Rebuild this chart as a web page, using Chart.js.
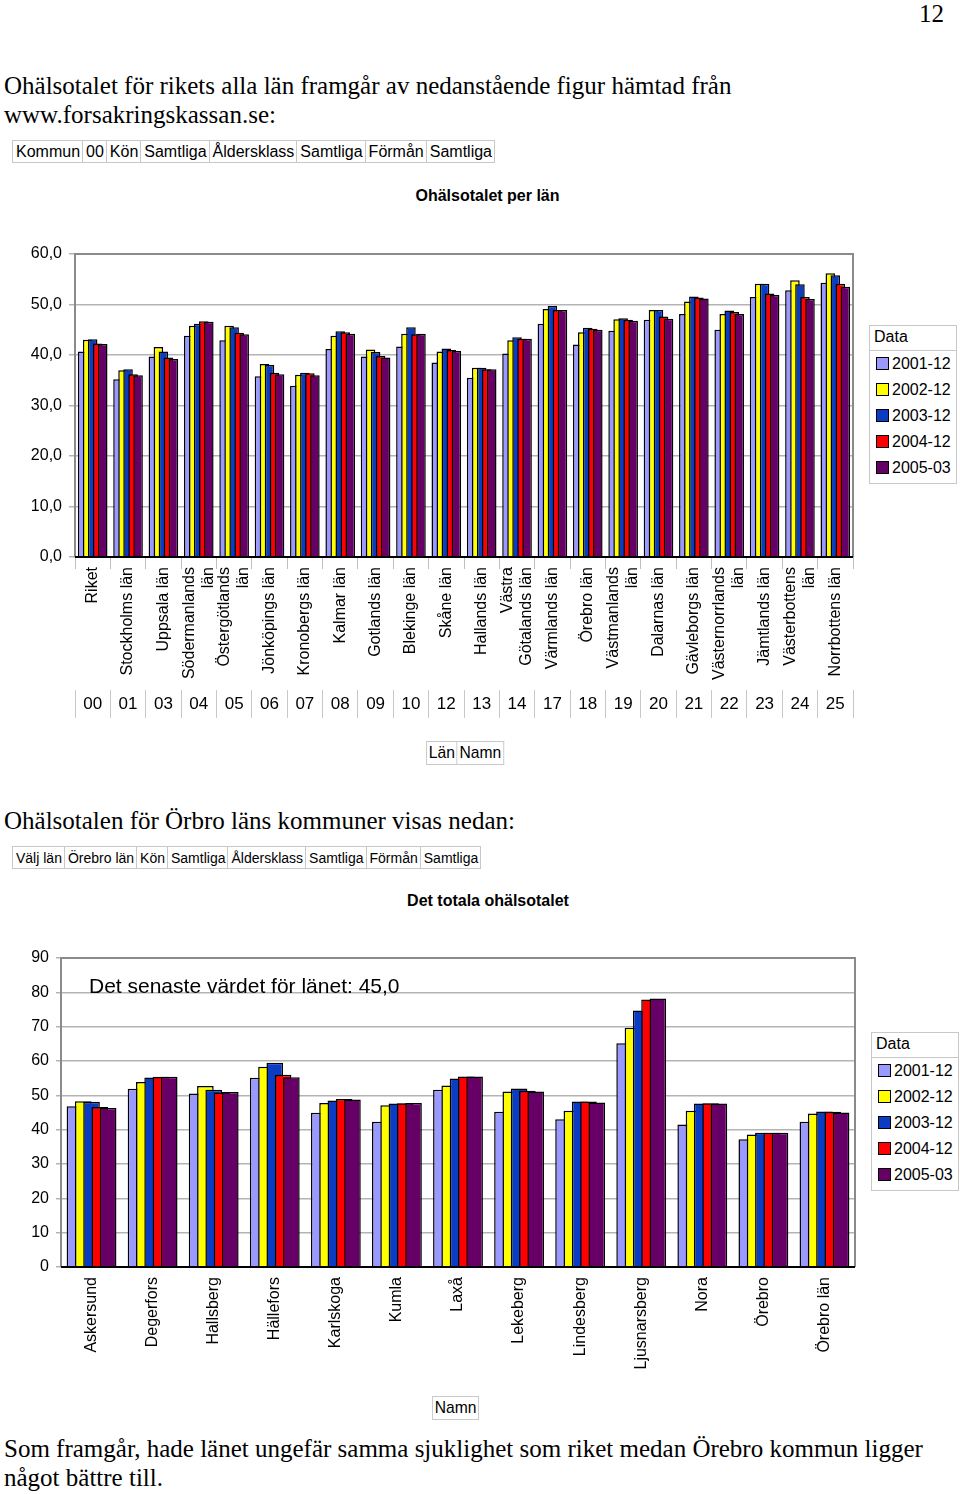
<!DOCTYPE html>
<html><head><meta charset="utf-8">
<script src="https://cdn.jsdelivr.net/npm/chart.js@4.4.1/dist/chart.umd.min.js"></script>
<style>
body{margin:0;width:960px;height:1494px;position:relative;background:#fff;font-family:'Liberation Sans',Arial,sans-serif;color:#000;overflow:hidden}
.abs{position:absolute;white-space:nowrap}
.serif{font-family:'Liberation Serif','Times New Roman',serif;font-size:25px;line-height:29px}
table.f{border-collapse:collapse;position:absolute}
table.f td{border:1px solid #c8c8c8;padding:0 2px 0 3px;white-space:nowrap}
.legend{position:absolute;border:1px solid #c8c8c8;font-size:16px;background:#fff}
.legend .hd{padding:2px 4px 3px 4px;border-bottom:1px solid #c8c8c8;height:19px}
.legend .it{height:26px;line-height:26px;padding-left:6px}
.legend .sw{display:inline-block;width:11px;height:11px;border:1px solid #000;margin-right:3px;vertical-align:-1px}
.bt{font-weight:bold;font-size:16px}
table.f.narrow{transform:scaleX(0.92);transform-origin:0 0}
table.f.narrow td{padding:0 2px}
canvas{position:absolute;left:0}
</style>
</head><body>
<div class="abs serif" style="right:16px;top:-1px">12</div>
<div class="abs serif" style="left:4px;top:71px">Ohälsotalet för rikets alla län framgår av nedanstående figur hämtad från<br>www.forsakringskassan.se:</div>
<table class="f" style="left:12px;top:140px;font-size:16px;height:23px"><tr><td>Kommun</td><td>00</td><td>Kön</td><td>Samtliga</td><td>Åldersklass</td><td>Samtliga</td><td>Förmån</td><td>Samtliga</td></tr></table>
<div class="abs bt" style="left:0;width:975px;text-align:center;top:187px">Ohälsotalet per län</div>
<div style="position:absolute;left:0;top:230px;width:860px;height:500px"><canvas id="c1" width="860" height="500"></canvas></div>
<div class="legend" id="lg1" style="left:869px;top:325px;width:86px;height:157px"></div>
<table class="f narrow" style="left:426px;top:741px;font-size:17px;height:24px"><tr><td>Län</td><td>Namn</td></tr></table>

<div class="abs serif" style="left:4px;top:806px">Ohälsotalen för Örbro läns kommuner visas nedan:</div>
<table class="f" style="left:12px;top:846px;font-size:14px;height:23px"><tr><td>Välj län</td><td>Örebro län</td><td>Kön</td><td>Samtliga</td><td>Åldersklass</td><td>Samtliga</td><td>Förmån</td><td>Samtliga</td></tr></table>
<div class="abs bt" style="left:0;width:976px;text-align:center;top:892px">Det totala ohälsotalet</div>
<div style="position:absolute;left:0;top:940px;width:860px;height:440px"><canvas id="c2" width="860" height="440"></canvas></div>
<div class="abs" style="left:89px;top:974px;font-size:21px">Det senaste värdet för länet: 45,0</div>
<div class="legend" id="lg2" style="left:871px;top:1032px;width:86px;height:157px"></div>
<table class="f narrow" style="left:432px;top:1396px;font-size:17px;height:24px"><tr><td>Namn</td></tr></table>

<div class="abs serif" style="left:4px;top:1434px">Som framgår, hade länet ungefär samma sjuklighet som riket medan Örebro kommun ligger<br>något bättre till.</div>

<script>
const seriesNames = ['2001-12','2002-12','2003-12','2004-12','2005-03'];
const seriesColors = ['#9999FF','#FFFF00','#0A3CC4','#FF0000','#660066'];

const lanLabels = [
  'Riket','Stockholms län','Uppsala län',['Södermanlands','län'],['Östergötlands','län'],
  'Jönköpings län','Kronobergs län','Kalmar län','Gotlands län','Blekinge län','Skåne län',
  'Hallands län',['Västra','Götalands län'],'Värmlands län','Örebro län',['Västmanlands','län'],
  'Dalarnas län','Gävleborgs län',['Västernorrlands','län'],'Jämtlands län',['Västerbottens','län'],'Norrbottens län'
];
const lanCodes = ['00','01','03','04','05','06','07','08','09','10','12','13','14','17','18','19','20','21','22','23','24','25'];
const lan2001 = [40.7,35.2,39.7,43.8,42.9,35.8,33.9,41.2,39.7,41.7,38.5,35.5,40.3,46.2,42.1,44.8,47.0,48.1,45.0,51.5,52.8,54.3];
const lan2002 = [43.0,37.0,41.6,45.8,45.8,38.2,36.1,43.8,41.1,44.2,40.7,37.5,42.9,49.1,44.5,47.1,48.9,50.6,48.1,54.1,54.8,56.2];
const lan2003 = [43.1,37.2,40.7,46.2,45.5,38.0,36.5,44.7,40.6,45.5,41.3,37.5,43.5,49.7,45.4,47.3,48.9,51.6,48.8,54.1,54.0,55.8];
const lan2004 = [42.3,36.2,39.5,46.7,44.4,36.5,36.4,44.5,39.8,44.1,41.0,37.2,43.2,48.9,45.2,47.0,47.6,51.4,48.5,52.2,51.5,54.1];
const lan2005 = [42.2,36.0,39.2,46.6,44.1,36.2,36.0,44.2,39.5,44.2,40.8,37.2,43.2,48.9,45.0,46.8,47.2,51.2,48.1,51.9,51.1,53.5];
const lanTicks = [0,10,20,30,40,50,60];

const komLabels = ['Askersund','Degerfors','Hallsberg','Hällefors','Karlskoga','Kumla','Laxå','Lekeberg','Lindesberg','Ljusnarsberg','Nora','Örebro','Örebro län'];
const kom2001 = [46.8,51.9,50.5,55.1,44.9,42.3,51.6,45.2,43.0,65.2,41.5,37.2,42.3];
const kom2002 = [48.3,53.9,52.7,58.3,47.8,47.1,52.9,51.1,45.5,69.7,45.5,38.6,44.7];
const kom2003 = [48.1,55.2,51.6,59.5,48.5,47.6,54.9,52.0,48.2,74.7,47.6,39.1,45.3];
const kom2004 = [46.6,55.4,50.8,56.0,48.9,47.7,55.5,51.3,48.2,77.9,47.7,39.1,45.2];
const kom2005 = [46.3,55.4,51.0,55.3,48.8,47.8,55.5,51.1,47.9,78.2,47.6,39.1,45.0];
const komTicks = [0,10,20,30,40,50,60,70,80,90];

const FONT = "'Liberation Sans', Arial, sans-serif";
const NARROW = "'Liberation Sans Narrow', 'Liberation Sans', Arial, sans-serif";

function buildLegend(id){
  const el = document.getElementById(id);
  let h = '<div class="hd">Data</div>';
  seriesNames.forEach((n,i)=>{ h += '<div class="it"><span class="sw" style="background:'+seriesColors[i]+'"></span>'+n+'</div>'; });
  el.innerHTML = h;
}
buildLegend('lg1'); buildLegend('lg2');

// draw datasets first-to-last so later series overlap earlier ones (3D-like cluster)
const forwardOrder = {
  id:'forwardOrder',
  beforeDatasetsDraw(chart){
    const metas = chart.getSortedVisibleDatasetMetas();
    metas.forEach(m => m.controller.draw());
    return false;
  }
};
const frame = {
  id:'frame',
  afterDraw(chart){
    const a = chart.chartArea, ctx = chart.ctx;
    ctx.save();
    ctx.strokeStyle = '#8a8a8a'; ctx.lineWidth = 2;
    ctx.beginPath();
    ctx.moveTo(a.left, a.bottom); ctx.lineTo(a.left, a.top); ctx.lineTo(a.right, a.top); ctx.lineTo(a.right, a.bottom);
    ctx.stroke();
    ctx.strokeStyle = '#000'; ctx.lineWidth = 2;
    ctx.beginPath(); ctx.moveTo(a.left, a.bottom); ctx.lineTo(a.right, a.bottom); ctx.stroke();
    ctx.restore();
  }
};

// center multi-line rotated tick labels on their tick
const adjusted = new WeakSet();
function centerMultiline(ax){
  if (ax._cmWrapped) return;
  const orig = ax.getLabelItems.bind(ax);
  ax.getLabelItems = function(ca){
    const items = orig(ca);
    items.forEach(it => {
      if (!adjusted.has(it) && Array.isArray(it.label) && it.label.length > 1) {
        it.options.translation[0] -= (it.label.length - 1) * 19.2 / 2;
        adjusted.add(it);
      }
    });
    return items;
  };
  ax._cmWrapped = true;
}

function makeDatasets(arrs, cp, bp){
  return arrs.map((d,i)=>({
    label: seriesNames[i], data: d, backgroundColor: seriesColors[i],
    borderColor:'#000', borderWidth:1.5, borderSkipped:'start',
    categoryPercentage: cp, barPercentage: bp
  }));
}

Chart.defaults.font.family = FONT;
Chart.defaults.color = '#000';

new Chart(document.getElementById('c1'), {
  type:'bar',
  data:{ labels: lanLabels, datasets: makeDatasets([lan2001,lan2002,lan2003,lan2004,lan2005], 0.71, 1.9) },
  options:{
    responsive:false, animation:false,
    layout:{ padding:{ top:24, right:7, left:0, bottom:10 } },
    plugins:{ legend:{display:false}, tooltip:{enabled:false} },
    scales:{
      y:{
        min:0, max:60,
        afterBuildTicks(ax){ ax.ticks = lanTicks.map(v=>({value:v})); },
        afterFit(ax){ ax.width = 75; },
        grid:{ color:'#b4b4b4', lineWidth:1.5, tickLength:6, drawTicks:true },
        border:{ display:false },
        ticks:{ font:{size:16}, padding:7, callback:(v)=>v.toFixed(1).replace('.',',') }
      },
      x:{
        offset:true,
        afterFit(ax){ ax.height = 133; },
        afterUpdate: centerMultiline,
        grid:{ offset:true, drawOnChartArea:false, color:'#c0c0c0', tickLength:12 },
        border:{ display:false },
        ticks:{ autoSkip:false, maxRotation:90, minRotation:90, font:{size:16, lineHeight:1.2}, padding:-2 }
      },
      x2:{
        type:'category', axis:'x', position:'bottom', labels: lanCodes, offset:true,
        afterFit(ax){ ax.height = 30; },
        grid:{ offset:true, drawOnChartArea:false, color:'#c8c8c8', tickLength:28 },
        border:{ display:false },
        ticks:{ autoSkip:false, maxRotation:0, minRotation:0, font:{size:17, family:NARROW}, padding:-24 }
      }
    }
  },
  plugins:[forwardOrder, frame]
});

new Chart(document.getElementById('c2'), {
  type:'bar',
  data:{ labels: komLabels, datasets: makeDatasets([kom2001,kom2002,kom2003,kom2004,kom2005], 0.68, 2.0) },
  options:{
    responsive:false, animation:false,
    layout:{ padding:{ top:18, right:5, left:0, bottom:0 } },
    plugins:{ legend:{display:false}, tooltip:{enabled:false} },
    scales:{
      y:{
        min:0, max:90,
        afterBuildTicks(ax){ ax.ticks = komTicks.map(v=>({value:v})); },
        afterFit(ax){ ax.width = 61; },
        grid:{ color:'#b4b4b4', lineWidth:1.5, tickLength:5, drawTicks:true },
        border:{ display:false },
        ticks:{ font:{size:16}, padding:7 }
      },
      x:{
        offset:true,
        afterFit(ax){ ax.height = 113; },
        grid:{ display:false },
        border:{ display:false },
        ticks:{ autoSkip:false, maxRotation:90, minRotation:90, font:{size:16}, padding:2 }
      }
    }
  },
  plugins:[forwardOrder, frame]
});
</script>
</body></html>
